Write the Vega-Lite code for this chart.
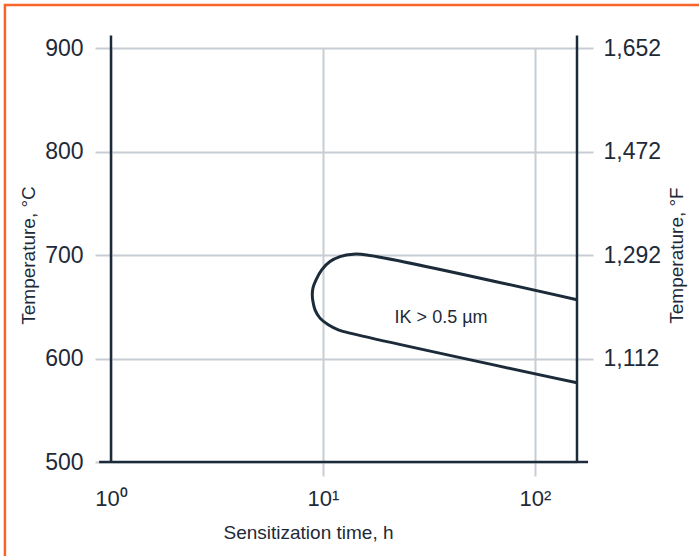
{
  "$schema": "https://vega.github.io/schema/vega-lite/v6.json",
  "width": 466,
  "height": 414,
  "autosize": {"type": "none"},
  "padding": {"left": 111, "top": 48, "right": 122, "bottom": 94},
  "background": "white",
  "data": {"values": [{"one": 1}]},
  "config": {
    "view": {"stroke": null},
    "font": "Liberation Sans",
    "axis": {
      "labelFont": "Liberation Sans",
      "titleFont": "Liberation Sans",
      "labelColor": "#1e2a38",
      "titleColor": "#1e2a38",
      "titleFontWeight": "normal",
      "gridColor": "#c8cdd4",
      "gridWidth": 2,
      "gridOpacity": 1,
      "tickColor": "#c8cdd4",
      "tickWidth": 2,
      "domain": false
    }
  },
  "resolve": {"axis": {"y": "independent", "x": "independent"}},
  "layer": [
    {
      "data": {
        "values": [
          {"order": 1, "t": 157.8, "T": 656.7},
          {"order": 2, "t": 16.07, "T": 700.1},
          {"order": 3, "t": 13.9, "T": 700.8},
          {"order": 4, "t": 12.03, "T": 698.5},
          {"order": 5, "t": 10.79, "T": 693.7},
          {"order": 6, "t": 9.86, "T": 685.7},
          {"order": 7, "t": 9.27, "T": 676.0},
          {"order": 8, "t": 8.97, "T": 668.3},
          {"order": 9, "t": 8.9, "T": 661.5},
          {"order": 10, "t": 8.97, "T": 654.8},
          {"order": 11, "t": 9.17, "T": 647.0},
          {"order": 12, "t": 9.68, "T": 639.0},
          {"order": 13, "t": 10.59, "T": 632.5},
          {"order": 14, "t": 11.81, "T": 627.7},
          {"order": 15, "t": 13.41, "T": 624.5},
          {"order": 16, "t": 157.8, "T": 576.5}
        ]
      },
      "mark": {"type": "line", "color": "#1c2b3a", "strokeWidth": 3, "interpolate": "catmull-rom"},
      "encoding": {
        "x": {
          "field": "t",
          "type": "quantitative",
          "scale": {"type": "log", "domain": [1, 157.8], "nice": false},
          "axis": {
            "orient": "bottom",
            "values": [1, 10, 100],
            "labelExpr": "datum.value == 1 ? '10⁰' : datum.value == 10 ? '10¹' : '10²'",
            "grid": true,
            "ticks": true,
            "tickSize": 14,
            "tickColor": {"condition": {"test": "datum.value == 1", "value": "transparent"}, "value": "#c8cdd4"},
            "labelFontSize": 22,
            "labelPadding": 12,
            "labelFlush": false,
            "title": "Sensitization time, h",
            "titleFontSize": 19,
            "titlePadding": 14,
            "titleX": 197,
            "titleAlign": "center"
          }
        },
        "y": {
          "field": "T",
          "type": "quantitative",
          "scale": {"domain": [500, 900], "nice": false, "zero": false},
          "axis": {
            "orient": "left",
            "values": [500, 600, 700, 800, 900],
            "grid": true,
            "tickSize": 16,
            "labelFontSize": 23,
            "labelPadding": 12,
            "labelFlush": false,
            "title": "Temperature, °C",
            "titleFontSize": 19,
            "titlePadding": 6
          }
        },
        "order": {"field": "order", "type": "quantitative"}
      }
    },
    {
      "data": {"values": [{"t": 36.05, "T": 638.8, "label": "IK > 0.5 µm"}]},
      "mark": {"type": "text", "fontSize": 18, "color": "#1e2a38", "align": "center", "baseline": "middle", "font": "Liberation Sans"},
      "encoding": {
        "x": {"field": "t", "type": "quantitative", "scale": {"type": "log", "domain": [1, 157.8], "nice": false}, "axis": null},
        "y": {"field": "T", "type": "quantitative", "scale": {"domain": [500, 900], "nice": false, "zero": false}, "axis": null},
        "text": {"field": "label"}
      }
    },
    {
      "mark": {"type": "rule", "color": "#1c2b3a", "strokeWidth": 2.5},
      "encoding": {
        "x": {"datum": 1, "type": "quantitative", "scale": {"type": "log", "domain": [1, 157.8], "nice": false}, "axis": null},
        "y": {"datum": 500, "type": "quantitative", "scale": {"domain": [500, 900], "nice": false, "zero": false}, "axis": null},
        "y2": {"datum": 912}
      }
    },
    {
      "mark": {"type": "rule", "color": "#1c2b3a", "strokeWidth": 2.5},
      "encoding": {
        "x": {"datum": 157.8, "type": "quantitative", "scale": {"type": "log", "domain": [1, 157.8], "nice": false}, "axis": null},
        "y": {
          "datum": 500,
          "type": "quantitative",
          "scale": {"domain": [500, 900], "nice": false, "zero": false},
          "axis": {
            "orient": "right",
            "values": [600, 700, 800, 900],
            "labelExpr": "format(datum.value * 9 / 5 + 32, ',')",
            "grid": false,
            "tickSize": 16,
            "labelFontSize": 23,
            "labelPadding": 10,
            "labelFlush": false,
            "title": "Temperature, °F",
            "titleAngle": 270,
            "titleFontSize": 19,
            "titlePadding": 26
          }
        },
        "y2": {"datum": 912}
      }
    },
    {
      "mark": {"type": "rule", "color": "#1c2b3a", "strokeWidth": 2.5},
      "encoding": {
        "x": {"datum": 0.879, "type": "quantitative", "scale": {"type": "log", "domain": [1, 157.8], "nice": false}, "axis": null},
        "x2": {"datum": 178},
        "y": {"datum": 500, "type": "quantitative", "scale": {"domain": [500, 900], "nice": false, "zero": false}, "axis": null}
      }
    },
    {
      "mark": {"type": "rect", "fillOpacity": 0, "stroke": "#f8652b", "strokeWidth": 2.5},
      "encoding": {
        "x": {"datum": 0.316, "type": "quantitative", "scale": {"type": "log", "domain": [1, 157.8], "nice": false}, "axis": null},
        "x2": {"datum": 1151},
        "y": {"datum": 941.5, "type": "quantitative", "scale": {"domain": [500, 900], "nice": false, "zero": false}, "axis": null},
        "y2": {"datum": 300}
      }
    }
  ]
}
